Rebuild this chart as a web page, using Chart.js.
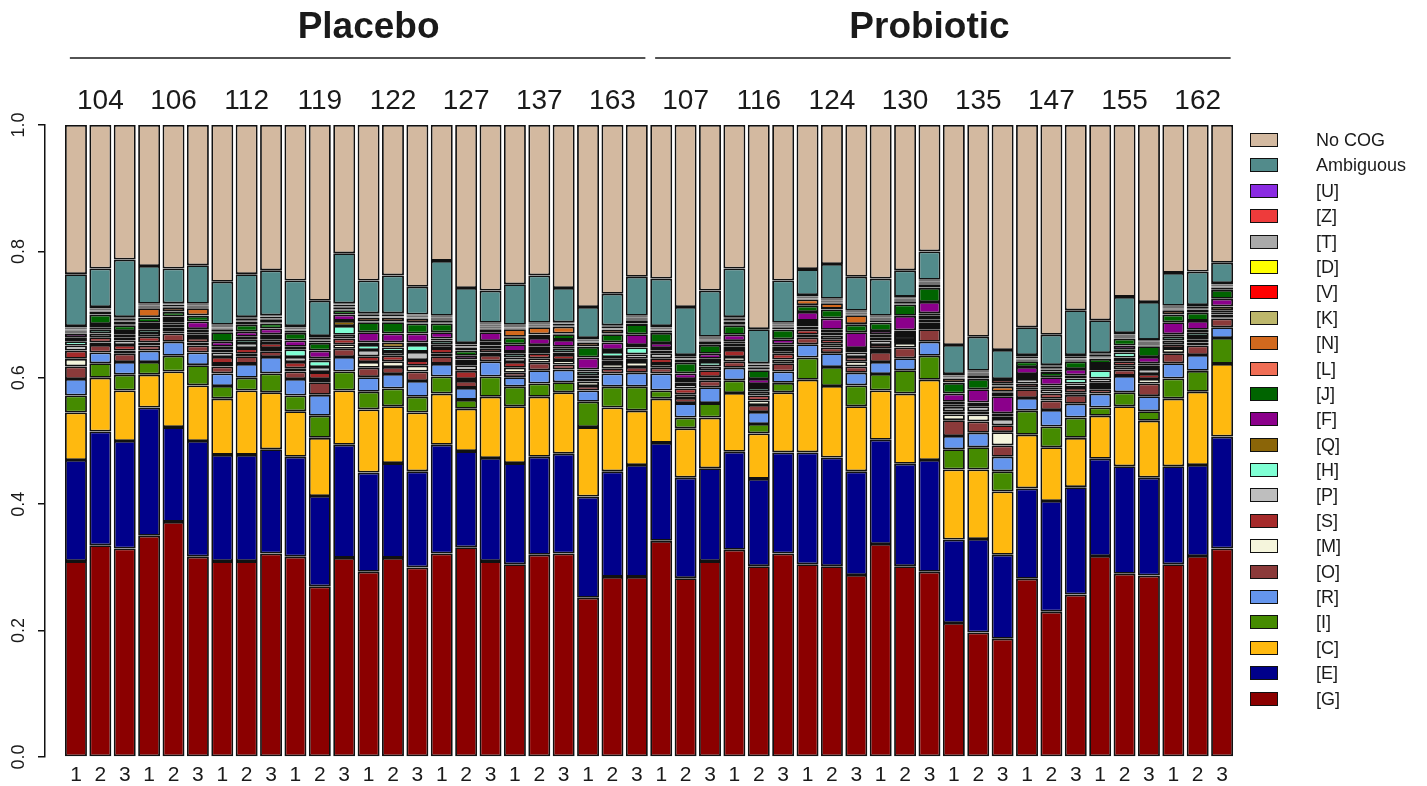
<!DOCTYPE html>
<html>

<head>
    <title>COG categories per sample</title>
    <script src="https://cdn.jsdelivr.net/npm/chart.js@4.4.0/dist/chart.umd.min.js"></script>
    <style>
        body {
            margin: 0;
            background: #fff;
            font-family: "Liberation Sans", Arial, sans-serif;
        }

        #wrap {
            position: relative;
            width: 1427px;
            height: 786px;
        }

        #legend {
            position: absolute;
            left: 1250px;
            top: 133px;
        }

        .item {
            position: relative;
            height: 25.4px;
        }

        .box {
            position: absolute;
            left: 0;
            top: 0;
            width: 28px;
            height: 14px;
            border: 1.7px solid #111;
            box-sizing: border-box;
        }

        .lbl {
            position: absolute;
            left: 66px;
            top: -3px;
            font-size: 18px;
            line-height: 20px;
            color: #1a1a1a;
            white-space: nowrap;
        }
    </style>
</head>

<body>
    <div id="wrap">
        <canvas id="cog" width="1427" height="786"></canvas>
        <div id="legend"></div>
    </div>
    <script>
        // groups, subjects (middle bar of each triple) and replicate tick labels
        var groups = ["Placebo", "Probiotic"];
        var subjects = ["104", "106", "112", "119", "122", "127", "137", "163",
            "107", "116", "124", "130", "135", "147", "155", "162"];
        var replicates = ["1", "2", "3", "1", "2", "3", "1", "2", "3", "1", "2", "3", "1", "2", "3", "1", "2", "3",
            "1", "2", "3", "1", "2", "3", "1", "2", "3", "1", "2", "3", "1", "2", "3", "1", "2", "3",
            "1", "2", "3", "1", "2", "3", "1", "2", "3", "1", "2", "3"];
        var yTicks = [0, 0.2, 0.4, 0.6, 0.8, 1.0];

        // COG categories, bottom of the stack first
        var categories = ["[G]", "[E]", "[C]", "[I]", "[R]", "[O]", "[M]", "[S]", "[P]", "[H]", "[Q]", "[F]",
            "[J]", "[L]", "[N]", "[K]", "[V]", "[D]", "[T]", "[Z]", "[U]", "Ambiguous", "No COG"];

        // relative abundance per sample (48 bars)
        var cogG = [.310, .335, .330, .350, .372, .317, .310, .310, .322, .317, .270, .315, .293, .315, .300, .322, .332, .310, .305, .320, .322, .252, .285, .285,
            .342, .283, .310, .328, .302, .322, .305, .302, .288, .337, .302, .293, .212, .197, .187, .282, .230, .257, .318, .290, .287, .305, .318, .330];
        var cogE = [.160, .180, .170, .203, .150, .183, .168, .168, .165, .158, .143, .179, .157, .150, .152, .172, .152, .163, .160, .155, .158, .160, .167, .177,
            .155, .159, .147, .155, .138, .160, .177, .172, .164, .165, .162, .177, .132, .148, .133, .143, .175, .170, .154, .170, .155, .155, .144, .177];
        var cogC = [.075, .085, .080, .052, .088, .088, .089, .102, .090, .072, .092, .086, .100, .090, .093, .081, .067, .097, .090, .095, .097, .110, .101, .086,
            .070, .078, .080, .093, .072, .095, .115, .113, .103, .078, .111, .127, .111, .110, .100, .085, .085, .078, .068, .095, .090, .107, .116, .115];
        var cogI = [.027, .023, .025, .020, .025, .032, .020, .020, .030, .025, .035, .030, .028, .028, .025, .027, .014, .032, .031, .021, .016, .040, .033, .038,
            .013, .017, .023, .020, .015, .015, .035, .030, .033, .026, .037, .038, .032, .035, .032, .038, .033, .032, .013, .022, .015, .032, .033, .041];
        var cogR = [.026, .017, .020, .018, .022, .020, .020, .022, .026, .026, .033, .023, .023, .023, .025, .020, .019, .024, .015, .021, .020, .018, .021, .022,
            .027, .023, .025, .020, .019, .018, .021, .022, .020, .019, .019, .022, .021, .023, .023, .020, .026, .022, .022, .026, .024, .024, .025, .017];
        var cogO = [.020, .012, .013, .008, .013, .011, .011, .012, .009, .012, .020, .013, .015, .011, .015, .012, .011, .010, .007, .012, .008, .007, .008, .009,
            .009, .008, .011, .010, .011, .013, .011, .009, .010, .016, .017, .020, .025, .018, .018, .014, .015, .014, .007, .010, .020, .016, .015, .014];
        var cogM = [.012, .004, .005, .005, .003, .005, .004, .004, .005, .005, .005, .007, .009, .009, .009, .004, .003, .004, .008, .007, .007, .007, .007, .008,
            .006, .006, .005, .007, .007, .006, .004, .006, .008, .005, .007, .005, .009, .011, .021, .003, .003, .004, .005, .006, .007, .008, .005, .002];
        var cogS = [.013, .008, .009, .009, .006, .007, .011, .009, .008, .010, .011, .009, .009, .009, .009, .009, .013, .006, .009, .008, .008, .005, .005, .005,
            .009, .009, .011, .011, .008, .009, .008, .007, .007, .006, .005, .005, .005, .005, .011, .006, .008, .007, .005, .007, .008, .006, .005, .004];
        var cogP = [.008, .006, .007, .006, .005, .005, .007, .008, .006, .008, .008, .006, .010, .006, .013, .006, .009, .005, .007, .005, .004, .005, .006, .007,
            .008, .007, .006, .005, .006, .006, .005, .006, .007, .007, .006, .005, .007, .008, .010, .007, .007, .007, .007, .006, .008, .006, .005, .003];
        var cogH = [.007, .006, .005, .006, .004, .004, .005, .006, .005, .012, .010, .014, .008, .007, .011, .006, .005, .004, .006, .005, .006, .006, .008, .011,
            .004, .003, .007, .005, .006, .005, .004, .005, .004, .005, .005, .006, .004, .002, .004, .005, .003, .008, .013, .008, .005, .006, .006, .004];
        var cogQ = [.006, .004, .005, .005, .005, .005, .004, .004, .003, .004, .004, .008, .004, .008, .004, .003, .004, .003, .003, .003, .003, .003, .003, .004,
            .004, .005, .005, .004, .006, .004, .005, .004, .003, .004, .004, .004, .004, .004, .005, .003, .003, .005, .005, .005, .004, .004, .004, .006];
        var cogF = [.006, .005, .005, .005, .004, .012, .008, .008, .009, .010, .012, .010, .016, .014, .014, .010, .006, .014, .012, .011, .011, .019, .012, .017,
            .008, .009, .008, .010, .008, .008, .014, .018, .025, .006, .023, .018, .013, .021, .027, .011, .013, .010, .005, .006, .010, .019, .014, .012];
        var cogJ = [.002, .015, .009, .008, .007, .009, .015, .011, .008, .012, .012, .007, .016, .018, .016, .014, .008, .005, .011, .005, .009, .017, .013, .016,
            .016, .017, .014, .015, .014, .015, .010, .014, .012, .013, .018, .022, .017, .016, .006, .009, .008, .012, .008, .011, .017, .012, .013, .014];
        var cogL = [.001, .001, .001, .001, .001, .001, .001, .001, .001, .001, .001, .001, .001, .001, .001, .001, .001, .001, .001, .001, .001, .001, .001, .001,
            .001, .001, .001, .001, .001, .001, .001, .001, .001, .001, .001, .001, .001, .001, .001, .001, .001, .001, .001, .001, .001, .001, .001, .001];
        var cogN = [.002, .004, .005, .014, .006, .011, .004, .004, .005, .003, .003, .003, .006, .006, .006, .004, .004, .002, .012, .011, .011, .006, .006, .005,
            .003, .004, .005, .005, .003, .003, .009, .009, .014, .003, .004, .005, .006, .005, .008, .002, .003, .002, .001, .001, .002, .006, .004, .003];
        var cogK = [.001, .001, .001, .001, .001, .001, .001, .001, .001, .001, .001, .001, .001, .001, .001, .001, .001, .001, .001, .001, .001, .001, .001, .001,
            .001, .001, .001, .001, .001, .001, .001, .001, .001, .001, .001, .001, .001, .001, .001, .001, .001, .001, .001, .001, .001, .001, .001, .001];
        var cogV = [.001, .001, .001, .001, .001, .001, .001, .001, .001, .001, .001, .001, .001, .001, .001, .001, .001, .001, .001, .001, .001, .001, .001, .001,
            .001, .001, .001, .001, .001, .001, .001, .001, .001, .001, .001, .001, .001, .001, .001, .001, .001, .001, .001, .001, .001, .001, .001, .001];
        var cogD = [.0005, .0005, .0005, .0005, .0005, .0005, .0005, .0005, .0005, .0005, .0005, .0005, .0005, .0005, .0005, .0005, .0005, .0005, .0005, .0005, .0005, .0005, .0005, .0005,
            .0005, .0005, .0005, .0005, .0005, .0005, .0005, .0005, .0005, .0005, .0005, .0005, .0005, .0005, .0005, .0005, .0005, .0005, .0005, .0005, .0005, .0005, .0005, .0005];
        var cogT = [.002, .002, .002, .002, .002, .002, .002, .002, .002, .002, .002, .002, .002, .002, .002, .002, .002, .002, .002, .002, .002, .002, .002, .002,
            .002, .002, .002, .002, .002, .002, .002, .002, .002, .002, .002, .002, .002, .002, .002, .002, .002, .002, .002, .002, .002, .002, .002, .002];
        var cogZ = [.001, .001, .001, .001, .001, .001, .001, .001, .001, .001, .001, .001, .001, .001, .001, .001, .001, .001, .001, .001, .001, .001, .001, .001,
            .001, .001, .001, .001, .001, .001, .001, .001, .001, .001, .001, .001, .001, .001, .006, .001, .001, .001, .001, .001, .001, .001, .001, .001];
        var cogU = [.0015, .0015, .0015, .0015, .0015, .0015, .0015, .0015, .0015, .0015, .0015, .0015, .0015, .0015, .0015, .0015, .0015, .0015, .0015, .0015, .0015, .0015, .0015, .0015,
            .0015, .0015, .0015, .0015, .0015, .0015, .0015, .0015, .0015, .0015, .0015, .0015, .0015, .0015, .0015, .0015, .0015, .0015, .0015, .0015, .0015, .0015, .0015, .0015];
        var ambiguous = [.082, .061, .091, .060, .055, .061, .068, .068, .071, .072, .056, .079, .052, .060, .044, .087, .087, .051, .064, .075, .054, .049, .050, .062,
            .075, .076, .073, .077, .054, .067, .041, .055, .054, .059, .042, .045, .046, .054, .046, .044, .048, .071, .052, .057, .060, .052, .053, .032];
        var noCog = [.236, .227, .213, .223, .227, .222, .248, .236, .230, .246, .278, .203, .246, .238, .256, .215, .258, .262, .252, .238, .258, .288, .267, .240,
            .243, .288, .262, .227, .323, .246, .228, .220, .240, .243, .230, .200, .348, .335, .356, .320, .332, .293, .309, .272, .280, .234, .232, .218];

        var series = [cogG, cogE, cogC, cogI, cogR, cogO, cogM, cogS, cogP, cogH, cogQ, cogF,
            cogJ, cogL, cogN, cogK, cogV, cogD, cogT, cogZ, cogU, ambiguous, noCog];

        var colors = ["#8b0000", "#00008b", "#ffb90f", "#458b00", "#6495ed", "#8b3a3a", "#f5f5dc", "#a52a2a",
            "#bebebe", "#7fffd4", "#8b6508", "#8b008b", "#006400", "#f06e55", "#d2691e", "#bdb76b",
            "#ff0000", "#ffff00", "#a9a9a9", "#ee3b3b", "#8a2be2", "#528b8b", "#d3b9a0"];

        var ink = "#1a1a1a";
        var fontName = '"Liberation Sans", Arial, sans-serif';

        var datasets = series.map(function(vals, k) {
            return {
                label: categories[k],
                data: vals.map(function(v, i) { return { x: i, y: v }; }),
                backgroundColor: colors[k],
                borderColor: "#111",
                borderWidth: 1.8,
                borderSkipped: false,
                barPercentage: 0.9,
                categoryPercentage: 1
            };
        });

        // titles, subject ids and rotated y labels, placed with the chart's scales
        var decor = {
            id: "decor",
            afterDraw: function(chart) {
                var ctx = chart.ctx;
                var x = chart.scales.x;
                var y = chart.scales.y;
                ctx.save();
                ctx.fillStyle = ink;
                ctx.strokeStyle = ink;
                ctx.textAlign = "center";
                ctx.textBaseline = "middle";

                ctx.font = "18px " + fontName;
                y.ticks.forEach(function(t) {
                    ctx.save();
                    ctx.translate(19, y.getPixelForValue(t.value));
                    ctx.rotate(-Math.PI / 2);
                    ctx.fillText(t.value.toFixed(1), 0, 0);
                    ctx.restore();
                });

                ctx.font = "28px " + fontName;
                subjects.forEach(function(s, k) {
                    ctx.fillText(s, x.getPixelForValue(3 * k + 1), 101);
                });

                ctx.font = "bold 37px " + fontName;
                ctx.lineWidth = 1.5;
                groups.forEach(function(g, k) {
                    var first = k * 24;
                    var last = first + 23;
                    ctx.fillText(g, x.getPixelForValue(k === 0 ? 12 : 35), 28);
                    ctx.beginPath();
                    ctx.moveTo(x.getPixelForValue(first - 0.25), 58);
                    ctx.lineTo(x.getPixelForValue(last + 0.35), 58);
                    ctx.stroke();
                });
                ctx.restore();
            }
        };

        var ctx = document.getElementById("cog").getContext("2d");
        var cogChart = new Chart(ctx, {
            type: "bar",
            data: { datasets: datasets },
            plugins: [decor],
            options: {
                responsive: false,
                animation: false,
                devicePixelRatio: 1,
                layout: { padding: { top: 125, right: 191, bottom: 0, left: 0 } },
                plugins: {
                    legend: { display: false },
                    tooltip: { enabled: false }
                },
                scales: {
                    x: {
                        type: "linear",
                        stacked: true,
                        offset: false,
                        min: -1.27,
                        max: 47.57,
                        grid: { display: false, drawTicks: false },
                        border: { display: false },
                        afterBuildTicks: function(scale) {
                            scale.ticks = replicates.map(function(r, i) { return { value: i }; });
                        },
                        afterFit: function(scale) { scale.height = 29; },
                        ticks: {
                            autoSkip: false,
                            maxRotation: 0,
                            padding: 6,
                            color: ink,
                            font: { size: 21, family: fontName },
                            callback: function(v) { return replicates[v]; }
                        }
                    },
                    y: {
                        stacked: true,
                        min: 0,
                        max: 1,
                        afterBuildTicks: function(scale) {
                            scale.ticks = yTicks.map(function(v) { return { value: v }; });
                        },
                        afterFit: function(scale) { scale.width = 45; },
                        grid: {
                            drawOnChartArea: false,
                            drawTicks: true,
                            tickLength: 7,
                            color: "#111",
                            lineWidth: 1.5
                        },
                        border: { display: true, color: "#111", width: 1.5 },
                        ticks: { display: false }
                    }
                }
            }
        });

        // legend, top entry first like the original
        var legend = document.getElementById("legend");
        for (var k = categories.length - 1; k >= 0; k--) {
            var item = document.createElement("div");
            item.className = "item";
            var box = document.createElement("div");
            box.className = "box";
            box.style.background = colors[k];
            var lbl = document.createElement("div");
            lbl.className = "lbl";
            lbl.textContent = categories[k];
            item.appendChild(box);
            item.appendChild(lbl);
            legend.appendChild(item);
        }
    </script>
</body>

</html>
